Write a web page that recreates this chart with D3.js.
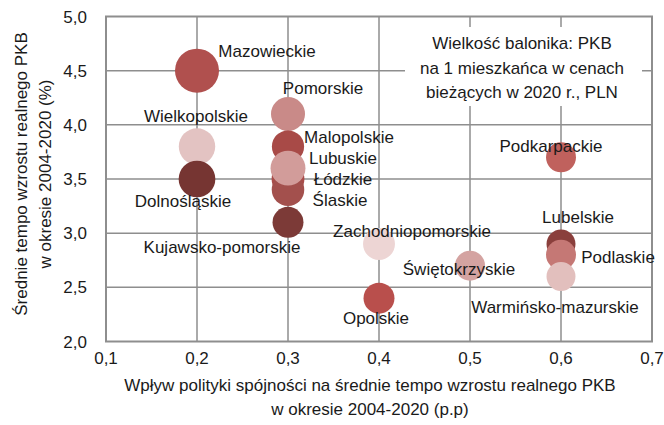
<!DOCTYPE html>
<html>
<head>
<meta charset="utf-8">
<script src="https://cdn.jsdelivr.net/npm/d3@7"></script>
<style>
  body { margin: 0; background: #fff; }
  text { font-family: "Liberation Sans", Arial, sans-serif; fill: #1a1a1a; }
</style>
</head>
<body>
<div id="wrapper"></div>
<script>
// data
const regions = ["Mazowieckie", "Wielkopolskie", "Dolnośląskie", "Pomorskie", "Malopolskie",
  "Łódzkie", "Ślaskie", "Lubuskie", "Kujawsko-pomorskie", "Zachodniopomorskie", "Opolskie",
  "Świętokrzyskie", "Podkarpackie", "Lubelskie", "Podlaskie", "Warmińsko-mazurskie"]
const cohesionImpact = [0.2, 0.2, 0.2, 0.3, 0.3, 0.3, 0.3, 0.3, 0.3, 0.4, 0.4, 0.5, 0.6, 0.6, 0.6, 0.6]
const gdpGrowth = [4.5, 3.8, 3.5, 4.1, 3.8, 3.5, 3.4, 3.6, 3.1, 2.9, 2.4, 2.7, 3.7, 2.9, 2.8, 2.6]
const gdpPerCapita = [97000, 66500, 67500, 58000, 52000, 54000, 53000, 61000, 48000, 51000, 48000,
  45000, 45000, 42000, 45000, 42000]
const xTicks = [0.1, 0.2, 0.3, 0.4, 0.5, 0.6, 0.7]
const yTicks = [2.0, 2.5, 3.0, 3.5, 4.0, 4.5, 5.0]
const xTitle = ["Wpływ polityki spójności na średnie tempo wzrostu realnego PKB", "w okresie 2004-2020 (p.p)"]
const yTitle = ["Średnie tempo wzrostu realnego PKB", "w okresie 2004-2020 (%)"]
const noteLines = ["Wielkość balonika: PKB", "na 1 mieszkańca w cenach", "bieżących w 2020 r., PLN"]

// styling per bubble
const colors = ["#b0504e", "#e3c3c2", "#763532", "#c98a88", "#a84a47", "#a94c49", "#a3504d",
  "#d29c9a", "#7c3a37", "#edd5d4", "#b94f4c", "#d4a3a1", "#c0615d", "#8a3f3c", "#c57875", "#e2bfbd"]
// label offsets from bubble centre: [dx of text centre, dy of baseline]
const labelOffsets = [[70, -14], [-1, -25], [-14, 28], [35, -20], [61, -4], [55, 6], [52, 16],
  [55, -4], [-66, 31], [33, -7], [-3, 26], [-11, 9], [-10, -5], [17, -21], [57, 8], [-6, 36]]

function drawChart() {
  const dataset = regions.map((name, i) => ({
    name,
    x: cohesionImpact[i],
    y: gdpGrowth[i],
    size: gdpPerCapita[i],
    color: colors[i],
    offset: labelOffsets[i],
  }))

  let dimensions = {
    width: 664,
    height: 425,
    margin: { top: 16.5, right: 12, bottom: 83.5, left: 106 },
  }
  dimensions.boundedWidth = dimensions.width - dimensions.margin.left - dimensions.margin.right
  dimensions.boundedHeight = dimensions.height - dimensions.margin.top - dimensions.margin.bottom

  const wrapper = d3.select("#wrapper")
    .append("svg")
    .attr("width", dimensions.width)
    .attr("height", dimensions.height)

  const bounds = wrapper.append("g")
    .attr("transform", `translate(${dimensions.margin.left}, ${dimensions.margin.top})`)

  const xScale = d3.scaleLinear()
    .domain([0.1, 0.7])
    .range([0, dimensions.boundedWidth])

  const yScale = d3.scaleLinear()
    .domain([2, 5])
    .range([dimensions.boundedHeight, 0])

  const rScale = d3.scaleSqrt()
    .domain([0, d3.max(dataset, d => d.size)])
    .range([0, 22])

  const fmt = d3.format(".1f")
  const comma = v => fmt(v).replace(".", ",")

  // grid
  const gridColor = "#8e8e8e"
  bounds.append("g").selectAll("line")
    .data(xTicks.slice(1, -1))
    .join("line")
    .attr("x1", d => xScale(d)).attr("x2", d => xScale(d))
    .attr("y1", 0).attr("y2", dimensions.boundedHeight)
    .attr("stroke", gridColor).attr("stroke-width", 1.5)

  bounds.append("g").selectAll("line")
    .data(yTicks.slice(1, -1))
    .join("line")
    .attr("x1", 0).attr("x2", dimensions.boundedWidth)
    .attr("y1", d => yScale(d)).attr("y2", d => yScale(d))
    .attr("stroke", gridColor).attr("stroke-width", 1.5)

  bounds.append("rect")
    .attr("width", dimensions.boundedWidth)
    .attr("height", dimensions.boundedHeight)
    .attr("fill", "none")
    .attr("stroke", gridColor)
    .attr("stroke-width", 2)

  // tick labels
  bounds.append("g").selectAll("text")
    .data(xTicks)
    .join("text")
    .attr("x", d => xScale(d))
    .attr("y", dimensions.boundedHeight + 22)
    .attr("text-anchor", "middle")
    .style("font-size", "17px")
    .text(comma)

  bounds.append("g").selectAll("text")
    .data(yTicks)
    .join("text")
    .attr("x", -19)
    .attr("y", d => yScale(d) + 6)
    .attr("text-anchor", "end")
    .style("font-size", "17px")
    .text(comma)

  // note box
  const note = wrapper.append("g")
  note.append("rect")
    .attr("x", 405).attr("y", 27)
    .attr("width", 237).attr("height", 79)
    .attr("fill", "#fff")
  note.selectAll("text")
    .data(noteLines)
    .join("text")
    .attr("x", 522)
    .attr("y", (d, i) => 49 + i * 24.5)
    .attr("text-anchor", "middle")
    .style("font-size", "17px")
    .text(d => d)

  // bubbles
  bounds.append("g").selectAll("circle")
    .data(dataset)
    .join("circle")
    .attr("cx", d => xScale(d.x))
    .attr("cy", d => yScale(d.y))
    .attr("r", d => rScale(d.size))
    .attr("fill", d => d.color)

  bounds.append("g").selectAll("text")
    .data(dataset)
    .join("text")
    .attr("x", d => xScale(d.x) + d.offset[0])
    .attr("y", d => yScale(d.y) + d.offset[1])
    .attr("text-anchor", "middle")
    .style("font-size", "17px")
    .text(d => d.name)

  // axis titles
  wrapper.append("g").selectAll("text")
    .data(xTitle)
    .join("text")
    .attr("x", 370)
    .attr("y", (d, i) => 391 + i * 24)
    .attr("text-anchor", "middle")
    .style("font-size", "17px")
    .text(d => d)

  wrapper.append("g")
    .attr("transform", "translate(0, 174) rotate(-90)")
    .selectAll("text")
    .data(yTitle)
    .join("text")
    .attr("x", 0)
    .attr("y", (d, i) => 27 + i * 24)
    .attr("text-anchor", "middle")
    .style("font-size", "17px")
    .text(d => d)
}

drawChart()
</script>
</body>
</html>
